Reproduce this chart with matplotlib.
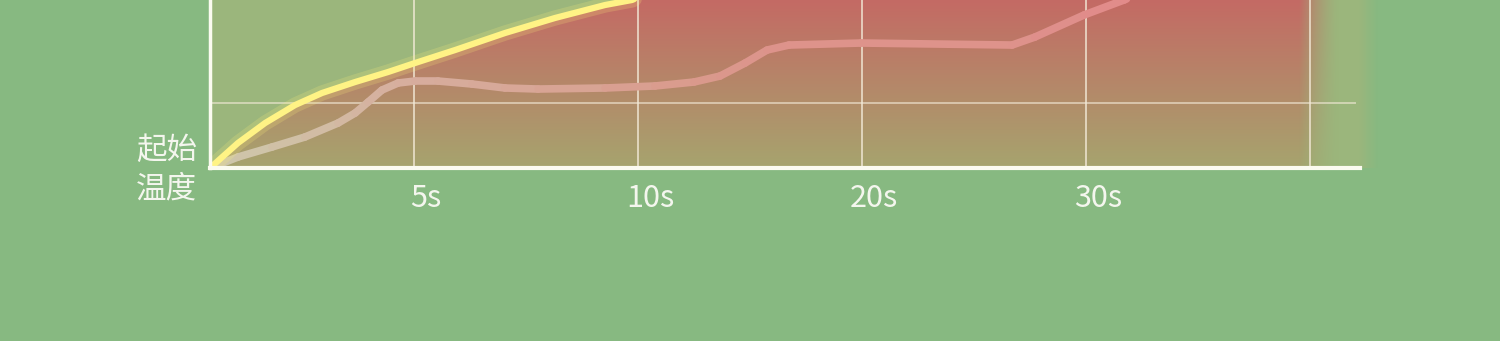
import numpy as np
import matplotlib.pyplot as plt
import matplotlib.transforms as mtransforms
from matplotlib.collections import LineCollection

plt.rcParams['font.family'] = ['Noto Sans CJK SC', 'DejaVu Sans']

# x in tick units (5s grid = 1), y in grid units (the one horizontal grid = 1)
tick_pos = [1, 2, 3, 4, 5]
tick_labels = ['5s', '10s', '20s', '30s', '']

yellow_x = [0.089, 0.214, 0.335, 0.469, 0.589, 0.737, 0.884, 1.004, 1.183, 1.406,
            1.629, 1.853, 1.973, 2.277, 3.17, 5.4]
yellow_y = [0.0, 0.385, 0.692, 0.969, 1.154, 1.323, 1.477, 1.615, 1.815, 2.077,
            2.308, 2.508, 2.585, 3.046, 4.12, 6.43]

pink_x = [0.089, 0.214, 0.366, 0.513, 0.661, 0.737, 0.795, 0.857, 0.929, 1.004, 1.107,
          1.259, 1.406, 1.554, 1.853, 2.076, 2.25, 2.366, 2.478, 2.576, 2.674, 2.996,
          3.670, 3.772, 3.991, 4.170, 4.33]
pink_y = [0.0, 0.169, 0.323, 0.477, 0.692, 0.846, 1.015, 1.2, 1.308, 1.338, 1.338,
          1.292, 1.231, 1.215, 1.231, 1.262, 1.323, 1.415, 1.615, 1.815, 1.892, 1.923,
          1.892, 2.015, 2.354, 2.585, 2.815]

outer_bg = '#87b981'
plot_bg = (0.608, 0.714, 0.490)
top_red = np.array([196, 106, 100]) / 255
bottom_olive = np.array([166, 164, 110]) / 255

x0, x1 = 0.089, 5.3125
y0, y1 = 0.0, 2.585

fig = plt.figure(figsize=(15, 3.41), dpi=100)
fig.patch.set_facecolor(outer_bg)
ax = fig.add_axes([210 / 1500, 173 / 341, 1170 / 1500, 168 / 341])
ax.set_facecolor('none')
ax.set_xlim(x0, x1)
ax.set_ylim(y0, y1)


def px_to_x(px):
    return (px - 414) / 224 + 1


def fill_color(y):
    t = np.clip((y - y0) / (y1 - y0), 0, 1)
    return bottom_olive * (1 - t) + top_red * t


# soft right edge of the plot area and of the fill
nx, ny = 900, 200
xs = np.linspace(x0, x1, nx)
fade_bg = np.clip((px_to_x(1378) - xs) / (px_to_x(1378) - px_to_x(1360)), 0, 1)
fade_fill = np.clip((px_to_x(1340) - xs) / (px_to_x(1340) - px_to_x(1300)), 0, 1) ** 1.5

bg = np.zeros((ny, nx, 4))
bg[..., :3] = plot_bg
bg[..., 3] = fade_bg[None, :]
ax.imshow(bg, extent=[x0, x1, y0, y1], aspect='auto', origin='lower', zorder=0,
          interpolation='bilinear')

ys = np.linspace(y0, y1, ny)
grad = np.zeros((ny, nx, 4))
grad[..., :3] = np.array([fill_color(v) for v in ys])[:, None, :]
grad[..., 3] = fade_fill[None, :]
im = ax.imshow(grad, extent=[x0, x1, y0, y1], aspect='auto', origin='lower', zorder=1,
               interpolation='bilinear')
poly = ax.fill_between(yellow_x, yellow_y, 0, color='none', lw=0)
im.set_clip_path(poly.get_paths()[0], transform=ax.transData)

# grid
for xp in tick_pos:
    ax.axvline(xp, color='#f3ead8', lw=1.4, alpha=0.75, zorder=2)
ax.axhline(1.0, xmax=(px_to_x(1355) - x0) / (x1 - x0), color='#f3ead8', lw=1.4,
           alpha=0.6, zorder=2)

# pink line: translucent, whitish at the start and pinker to the right
# (pre-blended with the fill under it so the joins don't show)
pts = np.column_stack([pink_x, pink_y]).reshape(-1, 1, 2)
segs = np.concatenate([pts[:-1], pts[1:]], axis=1)
line_start = np.array([245, 234, 228]) / 255
line_end = np.array([255, 172, 176]) / 255
cols = []
for (xa, ya), (xb, yb) in zip(pts[:-1, 0], pts[1:, 0]):
    w = np.clip(((xa + xb) / 2 - 0.3) / 2.0, 0, 1)
    lc_col = line_start * (1 - w) + line_end * w
    cols.append(0.5 * lc_col + 0.5 * fill_color((ya + yb) / 2))
ax.add_collection(LineCollection(segs, colors=cols, linewidths=5.5, capstyle='round',
                                 joinstyle='round', zorder=3))

# yellow line with soft glow
ax.plot(yellow_x, yellow_y, color='#fff27a', lw=11, alpha=0.2, zorder=4,
        solid_capstyle='round', solid_joinstyle='round')
ax.plot(yellow_x, yellow_y, color='#fff385', lw=4.5, zorder=5, solid_capstyle='round',
        solid_joinstyle='round')

for side in ['top', 'right']:
    ax.spines[side].set_visible(False)
ax.spines['left'].set_color('#fbfbf0')
ax.spines['left'].set_linewidth(2.5)
ax.spines['bottom'].set_color('#fbfbf0')
ax.spines['bottom'].set_linewidth(3)
ax.spines['bottom'].set_bounds(x0, px_to_x(1360))
for s in ax.spines.values():
    s.set_zorder(6)

ax.set_yticks([])
ax.set_xticks(tick_pos, tick_labels)
ax.tick_params(axis='x', length=0, pad=11, labelsize=22, labelcolor='#f4f6ee')
offset = mtransforms.ScaledTranslation(12 / 100, 0, fig.dpi_scale_trans)
for lab in ax.get_xticklabels():
    lab.set_transform(lab.get_transform() + offset)

fig.text(197 / 1500, (341 - 170) / 341, '起始\n温度', ha='right', va='center',
         fontsize=22, color='#f4f6ee', linespacing=1.3)

fig.savefig('out.png', dpi=100, facecolor=fig.get_facecolor())
